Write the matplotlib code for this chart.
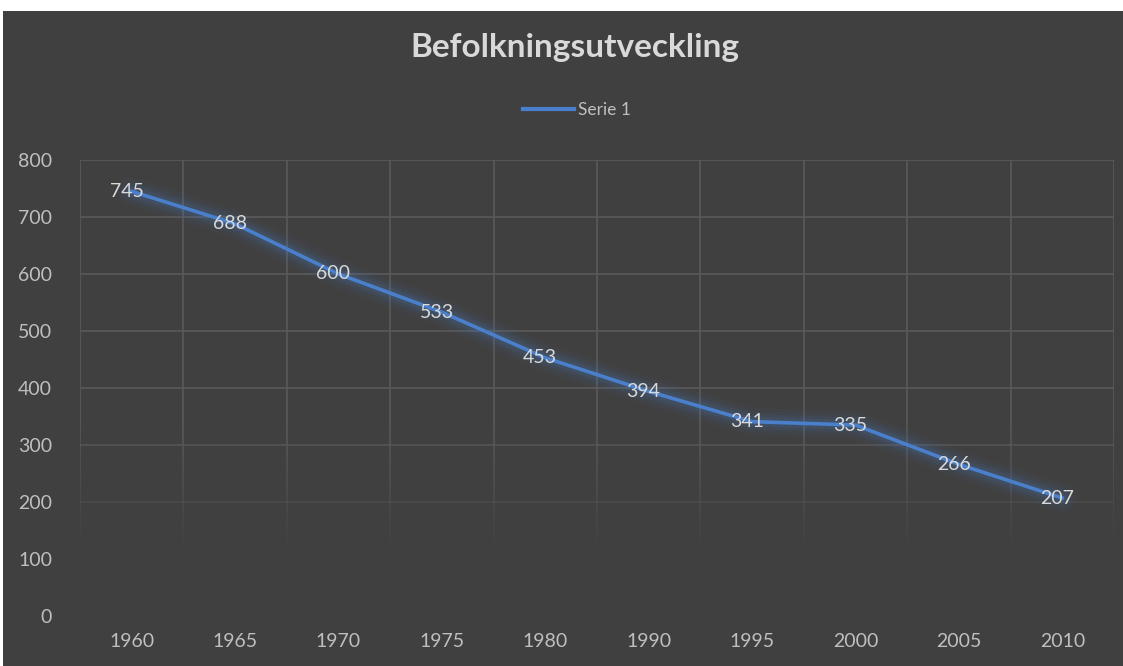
import matplotlib
matplotlib.use("Agg")
import matplotlib.pyplot as plt
import numpy as np
from matplotlib.patches import Rectangle

years = ["1960", "1965", "1970", "1975", "1980", "1990", "1995", "2000", "2005", "2010"]
values = [745, 688, 600, 533, 453, 394, 341, 335, 266, 207]
yticks = [0, 100, 200, 300, 400, 500, 600, 700, 800]
title = "Befolkningsutveckling"
series_name = "Serie 1"

BG = "#404040"
GRID = "#5a5a5a"
TXT = "#bfbfbf"
LINE = "#4a7fcb"
plt.rcParams['font.family'] = ['Lato', 'DejaVu Sans']

W, H = 1123, 666
fig = plt.figure(figsize=(W / 100, H / 100), dpi=100, facecolor="white")
fig.patches.append(Rectangle((3 / W, 0), 1 - 3 / W, 1 - 11 / H, transform=fig.transFigure,
                             facecolor=BG, edgecolor="none", zorder=-10))

ax = fig.add_axes([80 / W, 50 / H, (1114 - 80) / W, (616 - 160) / H])
ax.set_facecolor(BG)
n = len(years)
x = np.arange(n)
ax.set_xlim(-0.5, n - 0.5)
ax.set_ylim(0, 800)
for s in ax.spines.values():
    s.set_visible(False)


def fade(v):
    # gridline visibility fading toward the bottom
    return float(np.clip((v - 110) / 230, 0, 1))


# horizontal gridlines
for yv in yticks:
    a = fade(yv)
    if a > 0:
        ax.axhline(yv, color=GRID, lw=1.2, alpha=a, zorder=1)
# vertical gridlines (category boundaries), fading downward
ys = np.linspace(0, 800, 161)
for b in np.arange(-0.5, n, 1.0):
    for y0, y1 in zip(ys[:-1], ys[1:]):
        a = fade((y0 + y1) / 2)
        if a > 0:
            ax.plot([b, b], [y0, y1], color=GRID, lw=1.2, alpha=a, zorder=1,
                    solid_capstyle='butt')

# glow
for lw, al in [(20, 0.04), (15, 0.06), (11, 0.08), (7, 0.12)]:
    ax.plot(x, values, color=LINE, lw=lw, alpha=al, solid_capstyle='round',
            solid_joinstyle='round', zorder=2)
ax.plot(x, values, color=LINE, lw=2.6, solid_joinstyle='round', zorder=3, label=series_name)

for xi, v in zip(x, values):
    ax.text(xi - 0.05, v, str(v), ha="center", va="center", color="#d9d9d9",
            fontsize=14, zorder=4)

ax.set_xticks(x)
ax.set_xticklabels(years)
ax.set_yticks(yticks)
ax.tick_params(axis="both", length=0, colors=TXT, labelsize=14)
ax.tick_params(axis="x", pad=12)
ax.tick_params(axis="y", pad=20)

fig.text(575 / W, 1 - 47 / H, title, ha="center", va="center", color="#d9d9d9",
         fontsize=24, fontweight="bold")
leg = fig.legend(loc="center", bbox_to_anchor=(577 / W, 1 - 110 / H), frameon=False,
                 fontsize=12.5, labelcolor=TXT, handlelength=2.9, handletextpad=0.25)
for h in leg.get_lines():
    h.set_linewidth(3)

fig.savefig("out.png", dpi=100, facecolor=fig.get_facecolor())
